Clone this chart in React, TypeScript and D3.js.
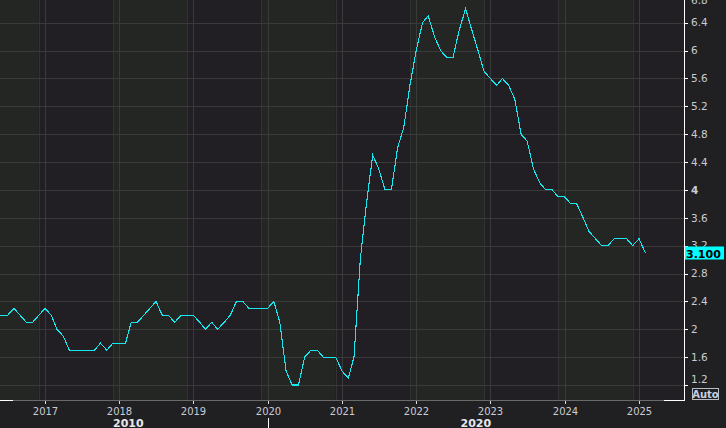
import React from 'react';
import * as d3 from 'd3';

const W = 726;
const H = 428;
const PLOT_RIGHT = 684;
const PLOT_BOTTOM = 400;

// Monthly values, starting April 2016
const startYear = 2016;
const startMonth = 3; // April (0-based)
const values2016 = [2.1, 2.2, 2.2, 2.2, 2.3, 2.2, 2.1, 2.1, 2.2];
const values2017 = [2.3, 2.2, 2.0, 1.9, 1.7, 1.7, 1.7, 1.7, 1.7, 1.8, 1.7, 1.8];
const values2018 = [1.8, 1.8, 2.1, 2.1, 2.2, 2.3, 2.4, 2.2, 2.2, 2.1, 2.2, 2.2];
const values2019 = [2.2, 2.1, 2.0, 2.1, 2.0, 2.1, 2.2, 2.4, 2.4, 2.3, 2.3, 2.3];
const values2020 = [2.3, 2.4, 2.1, 1.4, 1.2, 1.2, 1.6, 1.7, 1.7, 1.6, 1.6, 1.6];
const values2021 = [1.4, 1.3, 1.6, 3.0, 3.8, 4.5, 4.3, 4.0, 4.0, 4.6, 4.9, 5.5];
const values2022 = [6.0, 6.4, 6.5, 6.2, 6.0, 5.9, 5.9, 6.3, 6.6, 6.3, 6.0, 5.7];
const values2023 = [5.6, 5.5, 5.6, 5.5, 5.3, 4.8, 4.7, 4.3, 4.1, 4.0, 4.0, 3.9];
const values2024 = [3.9, 3.8, 3.8, 3.6, 3.4, 3.3, 3.2, 3.2, 3.3, 3.3, 3.3, 3.2];
const values2025 = [3.3, 3.1];

const yTicks = [1.2, 1.6, 2, 2.4, 2.8, 3.2, 3.6, 4, 4.4, 4.8, 5.2, 5.6, 6, 6.4, 6.8];
const yTickLabels = ['1.2', '1.6', '2', '2.4', '2.8', '3.2', '3.6', '4', '4.4', '4.8', '5.2', '5.6', '6', '6.4', '6.8'];
const xYears = [2017, 2018, 2019, 2020, 2021, 2022, 2023, 2024, 2025];
const bandYears = [2016, 2017, 2018, 2019, 2020, 2021, 2022, 2023, 2024, 2025, 2026];
const decadeLabels = ['2010', '2020'];
const lastLabel = '3.100';

const allValues = [
  ...values2016, ...values2017, ...values2018, ...values2019, ...values2020,
  ...values2021, ...values2022, ...values2023, ...values2024, ...values2025,
];
const data = allValues.map((v, i) => ({
  date: new Date(Date.UTC(startYear, startMonth + i, 1)),
  value: v,
}));

const x = d3.scaleUtc()
  .domain([new Date(Date.UTC(2017, 0, 1)), new Date(Date.UTC(2025, 0, 1))])
  .range([45, 639]);
const y = d3.scaleLinear().domain([0.985, 6.726]).range([PLOT_BOTTOM, 0]);

const FONT = "'DejaVu Sans', Verdana, sans-serif";

export default function App() {
  const line = d3.line<{ date: Date; value: number }>()
    .x(d => x(d.date))
    .y(d => y(d.value));
  const last = data[data.length - 1];
  const decStart = x(data[0].date);
  const decSplit = x(new Date(Date.UTC(2020, 0, 1)));

  return (
    <svg width={W} height={H} style={{ position: 'absolute', left: 0, top: 0, display: 'block' }}>
      <defs>
        <clipPath id="plot">
          <rect x={0} y={0} width={PLOT_RIGHT} height={PLOT_BOTTOM} />
        </clipPath>
      </defs>
      <rect x={0} y={0} width={W} height={H} fill="#201f22" />
      <g clipPath="url(#plot)">
        {bandYears.map(yr => {
          const x0 = x(new Date(Date.UTC(yr - 1, 11, 1)));
          const x1 = x(new Date(Date.UTC(yr, 11, 1)));
          return (
            <rect key={'b' + yr} x={x0} y={0} width={x1 - x0} height={PLOT_BOTTOM}
              fill={yr % 2 === 0 ? '#242624' : '#211f23'} />
          );
        })}
        {xYears.map(yr => {
          const xa = Math.round(x(new Date(Date.UTC(yr - 1, 11, 1)))) + 0.5;
          const xb = Math.round(x(new Date(Date.UTC(yr, 0, 1)))) + 0.5;
          return (
            <g key={'v' + yr}>
              <line x1={xa} x2={xa} y1={0} y2={PLOT_BOTTOM} stroke="#323232" />
              <line x1={xb} x2={xb} y1={0} y2={PLOT_BOTTOM} stroke="#3a3a3a" />
            </g>
          );
        })}
        {yTicks.map(t => {
          const yy = Math.round(y(t)) + 0.5;
          return <line key={'h' + t} x1={0} x2={PLOT_RIGHT} y1={yy} y2={yy} stroke="#3a3a3a" />;
        })}
        <path d={line(data) || ''} fill="none" stroke="#1ae6ef" strokeWidth={1.1}
          shapeRendering="crispEdges" />
      </g>

      {/* axes */}
      <line x1={0} x2={PLOT_RIGHT} y1={PLOT_BOTTOM + 0.5} y2={PLOT_BOTTOM + 0.5} stroke="#6a6a6a" />
      <line x1={0} x2={13} y1={PLOT_BOTTOM + 0.5} y2={PLOT_BOTTOM + 0.5} stroke="#ffffff" />
      <line x1={664} x2={PLOT_RIGHT + 1} y1={PLOT_BOTTOM + 0.5} y2={PLOT_BOTTOM + 0.5} stroke="#ffffff" />
      <line x1={PLOT_RIGHT + 0.5} x2={PLOT_RIGHT + 0.5} y1={0} y2={PLOT_BOTTOM + 1} stroke="#ffffff" />

      {/* y ticks and labels */}
      {yTicks.map((t, i) => {
        const yy = y(t);
        const ty = Math.max(0, Math.min(379.5, yy));
        return (
          <g key={'yl' + t}>
            {yy > 0 && yy < PLOT_BOTTOM && (
              <line x1={PLOT_RIGHT} x2={PLOT_RIGHT + 4} y1={Math.round(yy) + 0.5} y2={Math.round(yy) + 0.5} stroke="#ffffff" />
            )}
            <text x={691} y={ty + 3.7} fontFamily={FONT} fontSize={10.5}
              fontWeight={yTickLabels[i] === '4' ? 'bold' : 'normal'} fill="#c9ccd3">
              {yTickLabels[i]}
            </text>
          </g>
        );
      })}

      {/* x ticks and labels */}
      {xYears.map(yr => {
        const xx = Math.round(x(new Date(Date.UTC(yr, 0, 1)))) + 0.5;
        return (
          <g key={'xl' + yr}>
            <line x1={xx} x2={xx} y1={401} y2={404} stroke="#dddddd" />
            <text x={xx} y={415} textAnchor="middle" fontFamily={FONT} fontSize={10}
              fill="#c9ccd3">{yr}</text>
          </g>
        );
      })}
      <line x1={Math.round(decSplit) + 0.5} x2={Math.round(decSplit) + 0.5} y1={418} y2={H} stroke="#ffffff" />
      <text x={(decStart + decSplit) / 2} y={427} textAnchor="middle" fontFamily={FONT}
        fontSize={11} fontWeight="bold" fill="#e6e8ee">{decadeLabels[0]}</text>
      <text x={(decSplit + PLOT_RIGHT) / 2} y={427} textAnchor="middle" fontFamily={FONT}
        fontSize={11} fontWeight="bold" fill="#e6e8ee">{decadeLabels[1]}</text>

      {/* last value box */}
      <rect x={685} y={Math.round(y(last.value)) - 6.5} width={39} height={13} fill="#00ffff" />
      <text x={686} y={Math.round(y(last.value)) + 4.5} fontFamily={FONT} fontSize={11}
        fontWeight="bold" fill="#000000">{lastLabel}</text>

      {/* Auto box */}
      <rect x={692.5} y={388.5} width={26} height={11} fill="none" stroke="#b8bcc4" />
      <text x={705.5} y={398} textAnchor="middle" fontFamily={FONT} fontSize={10}
        fontWeight="bold" fill="#c9d0e0">Auto</text>
    </svg>
  );
}
